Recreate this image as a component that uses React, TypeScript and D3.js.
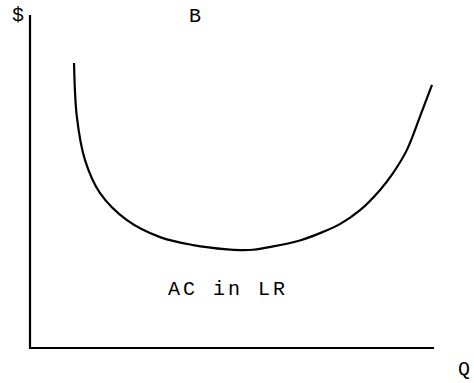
import React from "react";
import * as d3 from "d3";

const quantity = [1.09, 1.16, 1.36, 1.73, 2.4, 3.22, 4.04, 4.88, 5.2, 5.52, 6.02, 6.68, 7.18, 7.67, 8.17, 8.66, 8.99, 9.33, 9.65, 9.95];
const avgCost = [8.56, 6.94, 5.65, 4.66, 3.84, 3.33, 3.09, 2.96, 2.94, 2.95, 3.05, 3.23, 3.45, 3.72, 4.14, 4.74, 5.26, 5.95, 6.94, 7.9];

const yAxisLabel = "$";
const xAxisLabel = "Q";
const titleLabel = "B";
const curveLabel = "AC in LR";

const W = 474;
const H = 383;

export default function App() {
  const x = d3.scaleLinear().domain([0, 10]).range([30, 434]);
  const y = d3.scaleLinear().domain([0, 10]).range([348, 15]);
  const pts: [number, number][] = quantity.map((q, i) => [q, avgCost[i]]);
  const line = d3
    .line<[number, number]>()
    .x((d) => x(d[0]))
    .y((d) => y(d[1]))
    .curve(d3.curveCatmullRom.alpha(0.5));
  const font = "'Liberation Mono', 'Courier New', monospace";
  return (
    <svg
      width={W}
      height={H}
      style={{ position: "absolute", left: 0, top: 0, background: "#fff" }}
    >
      <line x1={x(0)} y1={y(10)} x2={x(0)} y2={y(0) + 1} stroke="#000" strokeWidth={2.2} />
      <line x1={x(0) - 1} y1={y(0)} x2={x(10)} y2={y(0)} stroke="#000" strokeWidth={2.2} />
      <path d={line(pts) || ""} fill="none" stroke="#000" strokeWidth={2.2} />
      <text x={12} y={21} fontFamily={font} fontSize={20} fill="#000">{yAxisLabel}</text>
      <text x={189} y={22} fontFamily={font} fontSize={20} fill="#000">{titleLabel}</text>
      <text x={458} y={375} fontFamily={font} fontSize={20} fill="#000">{xAxisLabel}</text>
      <text x={168} y={295} fontFamily={font} fontSize={20} letterSpacing={3} fill="#000">{curveLabel}</text>
    </svg>
  );
}
